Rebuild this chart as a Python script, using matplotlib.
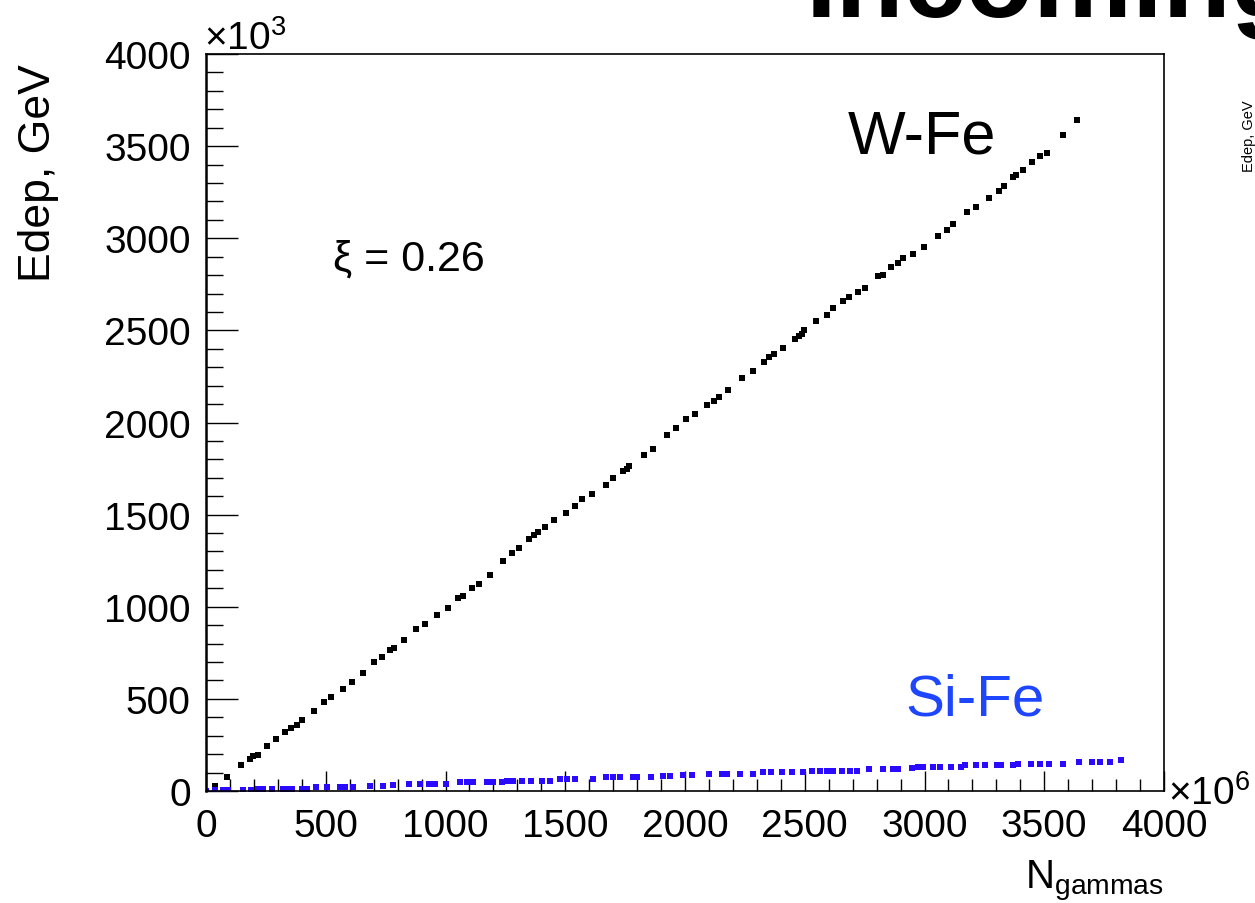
import matplotlib
matplotlib.use("Agg")
import matplotlib.pyplot as plt
from matplotlib.ticker import MultipleLocator

plt.rcParams['font.family'] = ['Liberation Sans', 'DejaVu Sans']
plt.rcParams['mathtext.fontset'] = 'custom'
plt.rcParams['mathtext.rm'] = 'Liberation Sans'
plt.rcParams['mathtext.it'] = 'Liberation Sans:italic'

# W-Fe: N_gammas (x10^6) vs Edep (x10^3 GeV)
wfe_x = [36, 89, 146, 182, 198, 218, 255, 292, 329, 356, 379, 401, 451, 494, 523,
         573, 611, 654, 703, 735, 770, 786, 828, 878, 916, 966, 1009, 1052, 1074,
         1112, 1141, 1184, 1241, 1279, 1306, 1350, 1371, 1387, 1417, 1453, 1503,
         1539, 1568, 1613, 1670, 1699, 1742, 1756, 1765, 1830, 1866, 1925, 1961,
         2004, 2040, 2092, 2121, 2142, 2178, 2236, 2286, 2330, 2350, 2371, 2410,
         2460, 2474, 2488, 2497, 2548, 2591, 2620, 2658, 2686, 2722, 2751, 2807,
         2825, 2861, 2889, 2911, 2954, 2998, 3056, 3092, 3121, 3179, 3216, 3268,
         3311, 3333, 3369, 3383, 3412, 3448, 3484, 3513, 3578, 3635]
wfe_y = [29, 78, 143, 172, 188, 197, 246, 282, 322, 340, 358, 387, 434, 481, 510,
         555, 593, 640, 698, 727, 765, 774, 819, 878, 905, 953, 991, 1046, 1056,
         1103, 1122, 1170, 1247, 1292, 1320, 1368, 1388, 1406, 1434, 1472, 1510,
         1548, 1585, 1613, 1661, 1699, 1737, 1750, 1764, 1821, 1857, 1933, 1971,
         2019, 2047, 2095, 2114, 2141, 2179, 2244, 2282, 2331, 2353, 2370, 2407,
         2455, 2471, 2480, 2500, 2549, 2586, 2623, 2660, 2681, 2708, 2728, 2793,
         2803, 2842, 2866, 2895, 2915, 2953, 3012, 3047, 3077, 3142, 3171, 3218,
         3256, 3285, 3332, 3341, 3369, 3415, 3444, 3463, 3560, 3643]

# Si-Fe
sife_x = [0, 38, 73, 93, 153, 188, 218, 239, 274, 323, 344, 358, 399, 420, 459,
          506, 559, 580, 615, 685, 740, 782, 849, 893, 931, 956, 1002, 1060, 1088,
          1115, 1174, 1199, 1234, 1255, 1283, 1321, 1359, 1401, 1436, 1478, 1506,
          1541, 1614, 1670, 1701, 1729, 1784, 1798, 1860, 1909, 1937, 1993, 2031,
          2100, 2153, 2174, 2229, 2282, 2324, 2361, 2403, 2448, 2491, 2529, 2563,
          2591, 2619, 2654, 2689, 2719, 2767, 2825, 2870, 2890, 2948, 2974, 2994,
          3036, 3064, 3110, 3152, 3169, 3215, 3252, 3301, 3321, 3370, 3391, 3446,
          3482, 3521, 3579, 3646, 3698, 3732, 3774, 3819]
sife_y = [2, 3, 3, 4, 4, 5, 11, 11, 12, 11, 12, 12, 13, 13, 20,
          20, 20, 21, 21, 29, 29, 30, 38, 38, 38, 39, 39, 47, 47,
          48, 47, 48, 50, 54, 54, 55, 55, 56, 56, 65, 65,
          65, 65, 74, 74, 74, 74, 74, 74, 83, 83, 85, 85,
          92, 92, 92, 92, 92, 101, 101, 101, 101, 101, 110, 110,
          110, 110, 110, 110, 110, 122, 122, 122, 122, 124, 131, 131,
          131, 131, 131, 131, 139, 140, 140, 140, 140, 140, 148, 148,
          148, 148, 148, 159, 158, 158, 158, 169]

W, H = 1255, 904


def fx(p):
    return p / W


def fy(p):
    return 1 - p / H


fig = plt.figure(figsize=(12.55, 9.04), dpi=100)
ax = fig.add_axes([fx(206), fy(792), fx(1164) - fx(206), fy(55) - fy(792)])

ax.plot(wfe_x, wfe_y, 's', color='black', ms=3.8, mew=0)
ax.plot(sife_x, sife_y, 's', color='#2b0bff', ms=4.2, mew=0)

ax.set_xlim(0, 4000)
ax.set_ylim(0, 4000)
for a in (ax.xaxis, ax.yaxis):
    a.set_major_locator(MultipleLocator(500))
    a.set_minor_locator(MultipleLocator(100))
ax.tick_params(which='both', direction='in', top=False, right=False,
               labelsize=28, width=1.0, color='black')
ax.tick_params(axis='x', which='major', length=14.4, pad=12)
ax.tick_params(axis='x', which='minor', length=8.6)
ax.tick_params(axis='y', which='major', length=23, pad=11)
ax.tick_params(axis='y', which='minor', length=12.2)
for s in ax.spines.values():
    s.set_linewidth(1.2)
ax.spines['left'].set_linewidth(1.8)

# axis titles, ROOT style
fig.text(fx(39), fy(64), 'Edep, GeV', rotation=90, ha='center', va='top', fontsize=32)
fig.text(fx(1164), fy(888), r'N$_{\mathrm{gammas}}$', ha='right', va='baseline', fontsize=29)
fig.text(fx(204), fy(50), r'×10$^{3}$', ha='left', va='baseline', fontsize=28)
fig.text(fx(1168), fy(805), r'×10$^{6}$', ha='left', va='baseline', fontsize=28)

fig.text(fx(333), fy(271), 'ξ = 0.26', ha='left', va='baseline', fontsize=31)
fig.text(fx(848), fy(153), 'W-Fe', ha='left', va='baseline', fontsize=44)
fig.text(fx(905), fy(716), 'Si-Fe', ha='left', va='baseline', fontsize=42, color='#1e46ff')

# slide title and neighbouring plot, cut off by the crop
fig.text(fx(806), fy(17), 'Incoming', ha='left', va='baseline', fontsize=80, fontweight='bold')
fig.text(fx(1249), fy(100), 'Edep, GeV', rotation=90, ha='center', va='top', fontsize=10.5)

fig.savefig('out.png', dpi=100)
